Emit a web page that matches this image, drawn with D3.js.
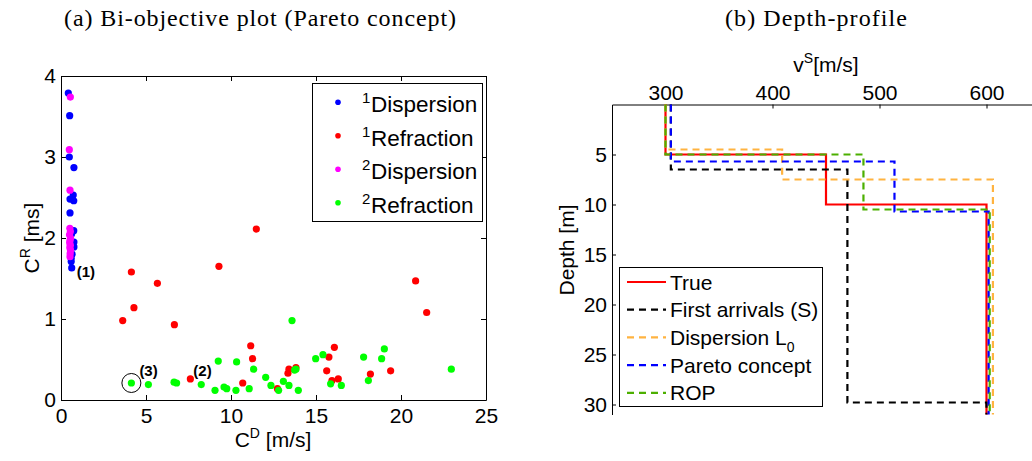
<!DOCTYPE html>
<html>
<head>
<meta charset="utf-8">
<script src="https://cdn.jsdelivr.net/npm/d3@7"></script>
<style>
    body { margin: 0; background: #fff; }
    text { font-family: "Liberation Sans", Arial, sans-serif; }
    .title { font-family: "Liberation Serif", "Times New Roman", serif; font-size: 24px; }
</style>
</head>
<body>
<script>
//bi-objective plot values
var disp1X = [0.43, 0.51, 0.49, 0.76, 0.72, 0.53, 0.75, 0.53, 0.75, 0.62, 0.76, 0.76, 0.65, 0.60, 0.60, 0.63];
var disp1Y = [3.79, 3.51, 3.00, 2.87, 2.53, 2.48, 2.46, 2.31, 2.09, 2.05, 1.95, 1.89, 1.80, 1.75, 1.71, 1.63];
var refr1X = [11.49, 9.29, 4.14, 5.67, 4.29, 3.63, 6.67, 11.16, 11.27, 7.61, 10.69, 13.41, 13.82, 13.35, 12.73,
              20.86, 21.51, 16.08, 15.76, 15.63, 15.94, 16.31, 18.20, 19.39];
var refr1Y = [2.11, 1.65, 1.58, 1.44, 1.14, 0.98, 0.93, 0.67, 0.51, 0.26, 0.21, 0.38, 0.40, 0.33, 0.14,
              1.47, 1.08, 0.65, 0.53, 0.36, 0.24, 0.26, 0.32, 0.36];
var disp2X = [0.55, 0.49, 0.53, 0.52, 0.55, 0.50, 0.56, 0.53, 0.51, 0.55, 0.52, 0.56, 0.54, 0.53];
var disp2Y = [3.74, 3.09, 2.59, 2.12, 2.08, 2.04, 2.00, 1.97, 1.94, 1.91, 1.88, 1.85, 1.81, 1.77];
var refr2X = [13.59, 4.14, 5.14, 6.65, 6.80, 8.25, 9.25, 10.33, 9.06, 9.59, 9.75, 10.29, 11.07, 11.33, 12.04,
              12.35, 12.80, 13.08, 13.41, 13.74, 13.82, 13.96, 14.98, 15.41, 15.86, 16.49, 17.80, 18.86,
              19.02, 18.08, 22.96];
var refr2Y = [0.98, 0.21, 0.19, 0.22, 0.21, 0.19, 0.48, 0.47, 0.12, 0.16, 0.14, 0.12, 0.14, 0.38, 0.28,
              0.18, 0.12, 0.23, 0.18, 0.37, 0.38, 0.12, 0.51, 0.56, 0.20, 0.18, 0.53, 0.51,
              0.63, 0.24, 0.38];
var scatterSup = ["1", "1", "2", "2"];
var scatterNames = ["Dispersion", "Refraction", "Dispersion", "Refraction"];
var scatterTicksX = [0, 5, 10, 15, 20, 25];
var scatterTicksY = [0, 1, 2, 3, 4];

//labelled solutions (1), (2), (3)
var noteLabels = ["(1)", "(2)", "(3)"];
var noteX = [0.63, 7.61, 4.14];
var noteY = [1.63, 0.26, 0.21];

//depth profiles: layer velocities and interface depths
var profileNames = ["True", "First arrivals (S)", "Dispersion L", "Pareto concept", "ROP"];
var profileV = [[300, 450, 600], [305, 470, 600], [300, 409, 606], [305, 514, 602], [300, 485, 603]];
var profileD = [[5, 10], [6.5, 29.8], [4.5, 7.5], [5.7, 10.7], [5.0, 10.5]];
var profileTicksV = [300, 400, 500, 600];
var profileTicksD = [5, 10, 15, 20, 25, 30];
var maxDepth = 31;

window.onload = setPage();

function setPage(){
    var svg = d3.select("body")
        .append("svg")
        .attr("width", 1032)
        .attr("height", 461);

    setScatter(svg);
    setProfile(svg);
};

//left panel
function setScatter(svg){
    var x = d3.scaleLinear().domain([0, 25]).range([61, 486]),
        y = d3.scaleLinear().domain([0, 4]).range([400, 76]);

    svg.append("text")
        .attr("class", "title")
        .attr("x", 260)
        .attr("y", 26)
        .attr("text-anchor", "middle")
        .attr("textLength", 392)
        .text("(a) Bi-objective plot (Pareto concept)");

    //axes with inward ticks on all four sides
    svg.append("g")
        .attr("transform", "translate(0,400)")
        .call(d3.axisBottom(x).tickValues(scatterTicksX).tickSize(-5).tickSizeOuter(0).tickPadding(8));
    svg.append("g")
        .attr("transform", "translate(0,76)")
        .call(d3.axisTop(x).tickValues(scatterTicksX).tickSize(-5).tickSizeOuter(0).tickFormat(""));
    svg.append("g")
        .attr("transform", "translate(61,0)")
        .call(d3.axisLeft(y).tickValues(scatterTicksY).tickFormat(d3.format("d"))
            .tickSize(-5).tickSizeOuter(0).tickPadding(5));
    svg.append("g")
        .attr("transform", "translate(486,0)")
        .call(d3.axisRight(y).tickValues(scatterTicksY).tickSize(-5).tickSizeOuter(0).tickFormat(""));
    styleAxis(svg);

    //axis labels
    var xl = svg.append("text")
        .attr("x", 273)
        .attr("y", 447)
        .attr("text-anchor", "middle")
        .style("font-size", "21px");
    xl.append("tspan").text("C");
    xl.append("tspan").attr("dy", -9).style("font-size", "14px").text("D");
    xl.append("tspan").attr("dy", 9).text(" [m/s]");

    var yl = svg.append("text")
        .attr("transform", "translate(39,238) rotate(-90)")
        .attr("text-anchor", "middle")
        .style("font-size", "21px");
    yl.append("tspan").text("C");
    yl.append("tspan").attr("dy", -9).style("font-size", "14px").text("R");
    yl.append("tspan").attr("dy", 9).text(" [ms]");

    //points
    var sets = [[disp1X, disp1Y], [refr1X, refr1Y], [disp2X, disp2Y], [refr2X, refr2Y]];
    var colors = ["#0000ff", "#ff0000", "#ff00ff", "#00ff00"];
    sets.forEach(function(s, k){
        svg.append("g")
            .selectAll("circle")
            .data(s[0])
            .enter()
            .append("circle")
            .attr("cx", function(d){ return x(d); })
            .attr("cy", function(d, i){ return y(s[1][i]); })
            .attr("r", 3.6)
            .style("fill", colors[k]);
    });

    //circle round solution (3)
    svg.append("circle")
        .attr("cx", x(noteX[2]))
        .attr("cy", y(noteY[2]))
        .attr("r", 9.5)
        .style("fill", "none")
        .style("stroke", "#000")
        .style("stroke-width", 1);

    var offsets = [[5, 9], [3, -3], [8, -7]];
    noteLabels.forEach(function(t, i){
        svg.append("text")
            .attr("x", x(noteX[i]) + offsets[i][0])
            .attr("y", y(noteY[i]) + offsets[i][1])
            .style("font-size", "15px")
            .style("font-weight", "bold")
            .text(t);
    });

    //legend
    svg.append("rect")
        .attr("x", 312.5)
        .attr("y", 83.5)
        .attr("width", 170)
        .attr("height", 138)
        .style("fill", "#fff")
        .style("stroke", "#000");
    scatterNames.forEach(function(name, i){
        var my = 102.3 + i * 33.5;
        svg.append("circle")
            .attr("cx", 338)
            .attr("cy", my)
            .attr("r", 2.8)
            .style("fill", colors[i]);
        var t = svg.append("text")
            .attr("x", 362)
            .attr("y", my + 10)
            .style("font-size", "22.5px");
        t.append("tspan").attr("dy", -9).style("font-size", "15px").text(scatterSup[i]);
        t.append("tspan").attr("x", 371).attr("dy", 9).text(name);
    });
};

//right panel
function setProfile(svg){
    var x = d3.scaleLinear().domain([250, 650]).range([612, 1040]),
        y = d3.scaleLinear().domain([0, maxDepth]).range([104.5, 414.5]);

    svg.append("text")
        .attr("class", "title")
        .attr("x", 816)
        .attr("y", 26)
        .attr("text-anchor", "middle")
        .attr("textLength", 182)
        .text("(b) Depth-profile");

    svg.append("g")
        .attr("transform", "translate(0,104.5)")
        .call(d3.axisTop(x).tickValues(profileTicksV).tickSize(-4).tickSizeOuter(0).tickPadding(4.5));
    svg.append("g")
        .attr("transform", "translate(612,0)")
        .call(d3.axisLeft(y).tickValues(profileTicksD).tickSize(-4).tickSizeOuter(0).tickPadding(5));
    styleAxis(svg);

    var xl = svg.append("text")
        .attr("x", 826)
        .attr("y", 72)
        .attr("text-anchor", "middle")
        .style("font-size", "21px");
    xl.append("tspan").text("v");
    xl.append("tspan").attr("dy", -9).style("font-size", "14px").text("S");
    xl.append("tspan").attr("dy", 9).text("[m/s]");

    svg.append("text")
        .attr("transform", "translate(574,250) rotate(-90)")
        .attr("text-anchor", "middle")
        .style("font-size", "21px")
        .text("Depth [m]");

    var colors = ["#ff0000", "#000000", "#ffb340", "#0000ff", "#4caf00"];
    var dashes = [null, "7,5", "7,5", "7,5", "7,5"];

    var line = d3.line()
        .x(function(d){ return x(d[0]); })
        .y(function(d){ return y(d[1]); });

    profileV.forEach(function(v, k){
        var d = profileD[k];
        //build the step profile from the layer values
        var pts = [[v[0], 0]];
        for (var i=0; i<d.length; i++){
            pts.push([v[i], d[i]]);
            pts.push([v[i+1], d[i]]);
        };
        pts.push([v[v.length-1], maxDepth]);
        svg.append("path")
            .attr("d", line(pts))
            .style("fill", "none")
            .style("stroke", colors[k])
            .style("stroke-width", 2.2)
            .style("stroke-dasharray", dashes[k]);
    });

    //legend
    svg.append("rect")
        .attr("x", 619.5)
        .attr("y", 267.5)
        .attr("width", 203)
        .attr("height", 139)
        .style("fill", "#fff")
        .style("stroke", "#000");
    profileNames.forEach(function(name, i){
        var ly = 282 + i * 27.7;
        svg.append("line")
            .attr("x1", 627).attr("x2", 666)
            .attr("y1", ly).attr("y2", ly)
            .style("stroke", colors[i])
            .style("stroke-width", 2.2)
            .style("stroke-dasharray", dashes[i]);
        var t = svg.append("text")
            .attr("x", 670)
            .attr("y", ly + 7.5)
            .style("font-size", "21px")
            .text(name);
        if (i == 2){
            t.append("tspan").attr("dy", 7).style("font-size", "14px").text("0");
        };
    });
};

//matlab-like axis look
function styleAxis(svg){
    svg.selectAll(".tick text")
        .style("font-size", "21px")
        .attr("font-family", null);
    svg.selectAll(".domain, .tick line")
        .style("stroke", "#000");
    svg.selectAll("g").attr("font-family", null).attr("font-size", null);
};
</script>
</body>
</html>
